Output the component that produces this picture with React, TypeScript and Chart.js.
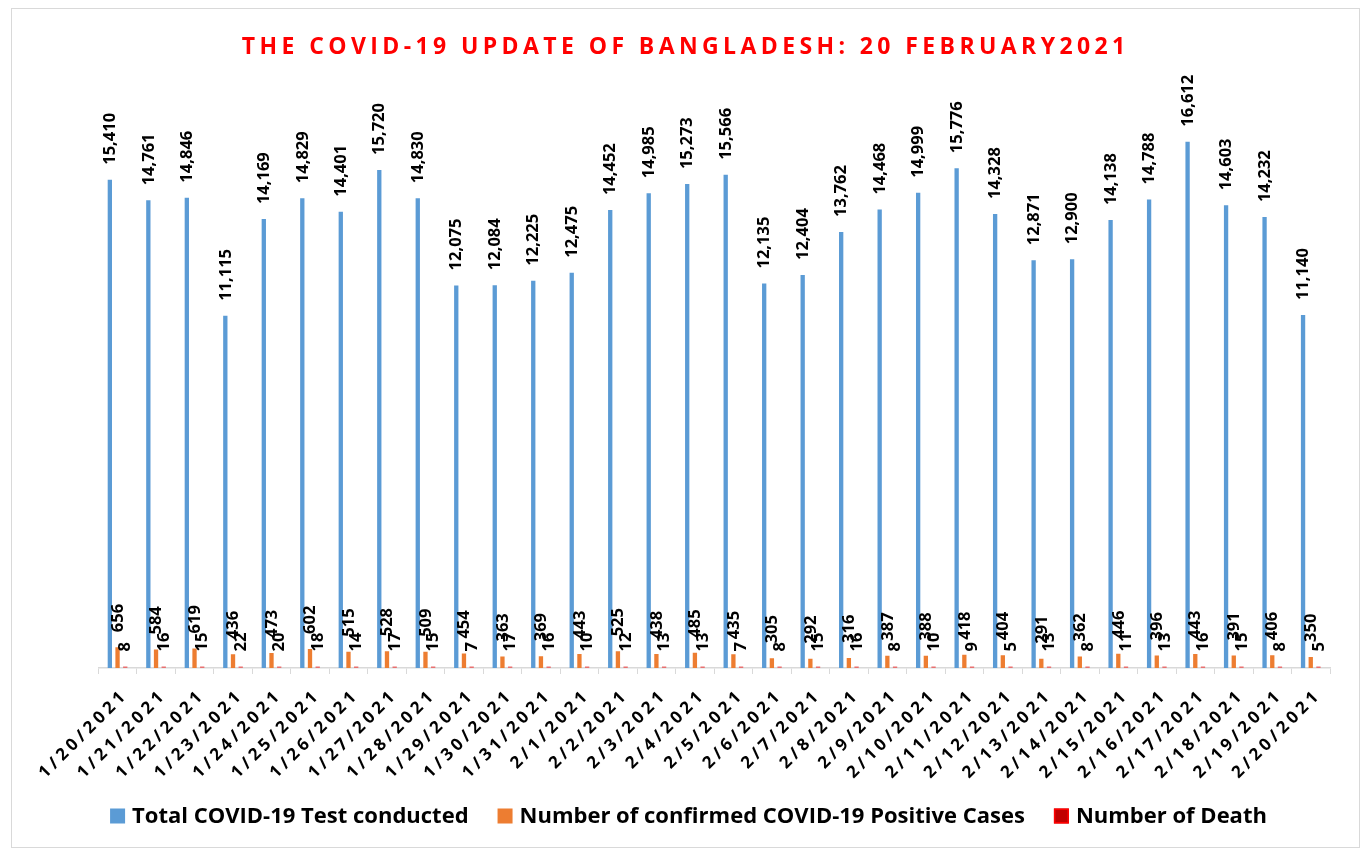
import React, { useEffect, useRef } from "react";
import { Chart, registerables } from "chart.js";

Chart.register(...registerables);

const TITLE = "THE COVID-19 UPDATE OF BANGLADESH: 20 FEBRUARY2021";

const dates = [
  "1/20/2021", "1/21/2021", "1/22/2021", "1/23/2021", "1/24/2021", "1/25/2021",
  "1/26/2021", "1/27/2021", "1/28/2021", "1/29/2021", "1/30/2021", "1/31/2021",
  "2/1/2021", "2/2/2021", "2/3/2021", "2/4/2021", "2/5/2021", "2/6/2021",
  "2/7/2021", "2/8/2021", "2/9/2021", "2/10/2021", "2/11/2021", "2/12/2021",
  "2/13/2021", "2/14/2021", "2/15/2021", "2/16/2021", "2/17/2021", "2/18/2021",
  "2/19/2021", "2/20/2021",
];

const tests = [
  15410, 14761, 14846, 11115, 14169, 14829, 14401, 15720, 14830, 12075, 12084,
  12225, 12475, 14452, 14985, 15273, 15566, 12135, 12404, 13762, 14468, 14999,
  15776, 14328, 12871, 12900, 14138, 14788, 16612, 14603, 14232, 11140,
];

const positives = [
  656, 584, 619, 436, 473, 602, 515, 528, 509, 454, 363, 369, 443, 525, 438, 485,
  435, 305, 292, 316, 387, 388, 418, 404, 291, 362, 446, 396, 443, 391, 406, 350,
];

const deaths = [
  8, 16, 15, 22, 20, 18, 14, 17, 15, 7, 17, 16, 10, 12, 13, 13, 7, 8, 15, 16, 8,
  10, 9, 5, 13, 8, 11, 13, 16, 15, 8, 5,
];

const seriesNames = [
  "Total COVID-19 Test conducted",
  "Number of confirmed COVID-19 Positive Cases",
  "Number of Death",
];

const seriesColors = ["#5B9BD5", "#ED7D31", "#C00000"];
const seriesBorders = ["#5B9BD5", "#ED7D31", "#FF0000"];

const FONT = '"Open Sans", "Liberation Sans", sans-serif';
const fmt = (v: number) => v.toLocaleString("en-US");

const drawPlugin = {
  id: "customDraw",
  afterDatasetsDraw(chart: any) {
    const ctx = chart.ctx as CanvasRenderingContext2D;
    ctx.save();
    ctx.font = `bold 16.5px ${FONT}`;
    ctx.fillStyle = "#000000";
    ctx.textAlign = "left";
    ctx.textBaseline = "middle";
    chart.data.datasets.forEach((ds: any, di: number) => {
      const meta = chart.getDatasetMeta(di);
      meta.data.forEach((el: any, i: number) => {
        ctx.save();
        ctx.translate(el.x + 0.5, el.y - 15);
        ctx.rotate(-Math.PI / 2);
        ctx.fillText(fmt(ds.data[i]), 0, 0);
        ctx.restore();
      });
    });
    ctx.restore();
  },
  afterDraw(chart: any) {
    const ctx = chart.ctx as CanvasRenderingContext2D;
    const area = chart.chartArea;
    const xs = chart.scales.x;
    const W = chart.width;

    // category labels
    ctx.save();
    const ls = 4;
    ctx.font = `bold 17px ${FONT}`;
    (ctx as any).letterSpacing = `${ls}px`;
    ctx.fillStyle = "#000000";
    ctx.textAlign = "right";
    ctx.textBaseline = "middle";
    chart.data.labels.forEach((lab: string, i: number) => {
      const px = xs.getPixelForValue(i);
      ctx.save();
      ctx.translate(px + 5, area.bottom + 27);
      ctx.rotate(-Math.PI / 4);
      ctx.fillText(lab, ls, 0);
      ctx.restore();
    });
    ctx.restore();

    // title
    ctx.save();
    const tls = 4.4;
    ctx.font = `bold 23px ${FONT}`;
    (ctx as any).letterSpacing = `${tls}px`;
    ctx.fillStyle = "#FF0000";
    ctx.textAlign = "center";
    ctx.textBaseline = "middle";
    ctx.fillText(TITLE, W / 2 - 2 + tls / 2, 38);
    ctx.restore();

    // legend
    ctx.save();
    ctx.font = `bold 22px ${FONT}`;
    ctx.textBaseline = "middle";
    ctx.textAlign = "left";
    const box = 15;
    const gapText = 7;
    const gapItem = 29;
    const items = chart.data.datasets.map((ds: any, i: number) => ({
      label: ds.label,
      color: seriesColors[i],
      border: seriesBorders[i],
      w: ctx.measureText(ds.label).width,
    }));
    const total =
      items.reduce((s: number, it: any) => s + box + gapText + it.w, 0) +
      gapItem * (items.length - 1);
    let x = W / 2 + 3 - total / 2;
    const cy = 807;
    items.forEach((it: any) => {
      ctx.fillStyle = it.color;
      ctx.fillRect(x, cy - box / 2, box, box);
      if (it.border !== it.color) {
        ctx.strokeStyle = it.border;
        ctx.lineWidth = 1.5;
        ctx.strokeRect(x + 0.75, cy - box / 2 + 0.75, box - 1.5, box - 1.5);
      }
      ctx.fillStyle = "#000000";
      ctx.fillText(it.label, x + box + gapText, cy + 1);
      x += box + gapText + it.w + gapItem;
    });
    ctx.restore();
  },
};

export default function App() {
  const ref = useRef<HTMLCanvasElement | null>(null);

  useEffect(() => {
    if (!ref.current) return;
    const seriesData = [tests, positives, deaths];
    const chart = new Chart(ref.current, {
      type: "bar",
      data: {
        labels: dates,
        datasets: seriesData.map((d, i) => ({
          label: seriesNames[i],
          data: d,
          backgroundColor: i === 2 ? "#E87070" : seriesColors[i],
          borderColor: seriesBorders[i],
          borderWidth: 0,
          minBarLength: i === 2 ? 1.5 : 0,
          categoryPercentage: 0.6,
          barPercentage: 0.56,
        })),
      },
      options: {
        responsive: false,
        animation: false,
        events: [],
        layout: { padding: { top: 88.7, bottom: 173, left: 86.3, right: 29 } },
        plugins: {
          legend: { display: false },
          title: { display: false },
          tooltip: { enabled: false },
        },
        scales: {
          x: {
            offset: true,
            grid: {
              display: true,
              offset: true,
              drawOnChartArea: false,
              drawTicks: true,
              tickLength: 6,
              color: "#D9D9D9",
              lineWidth: 1,
            },
            border: { display: true, color: "#D9D9D9", width: 1.5 },
            ticks: { display: false },
          },
          y: {
            display: false,
            min: 0,
            max: 18000,
          },
        },
      },
      plugins: [drawPlugin],
    });
    return () => chart.destroy();
  }, []);

  return (
    <div
      style={{
        position: "absolute",
        left: 11,
        top: 8,
        width: 1349,
        height: 840,
        boxSizing: "border-box",
        border: "1px solid #D9D9D9",
        background: "#FFFFFF",
      }}
    >
      <canvas ref={ref} width={1347} height={838} style={{ display: "block" }} />
    </div>
  );
}
